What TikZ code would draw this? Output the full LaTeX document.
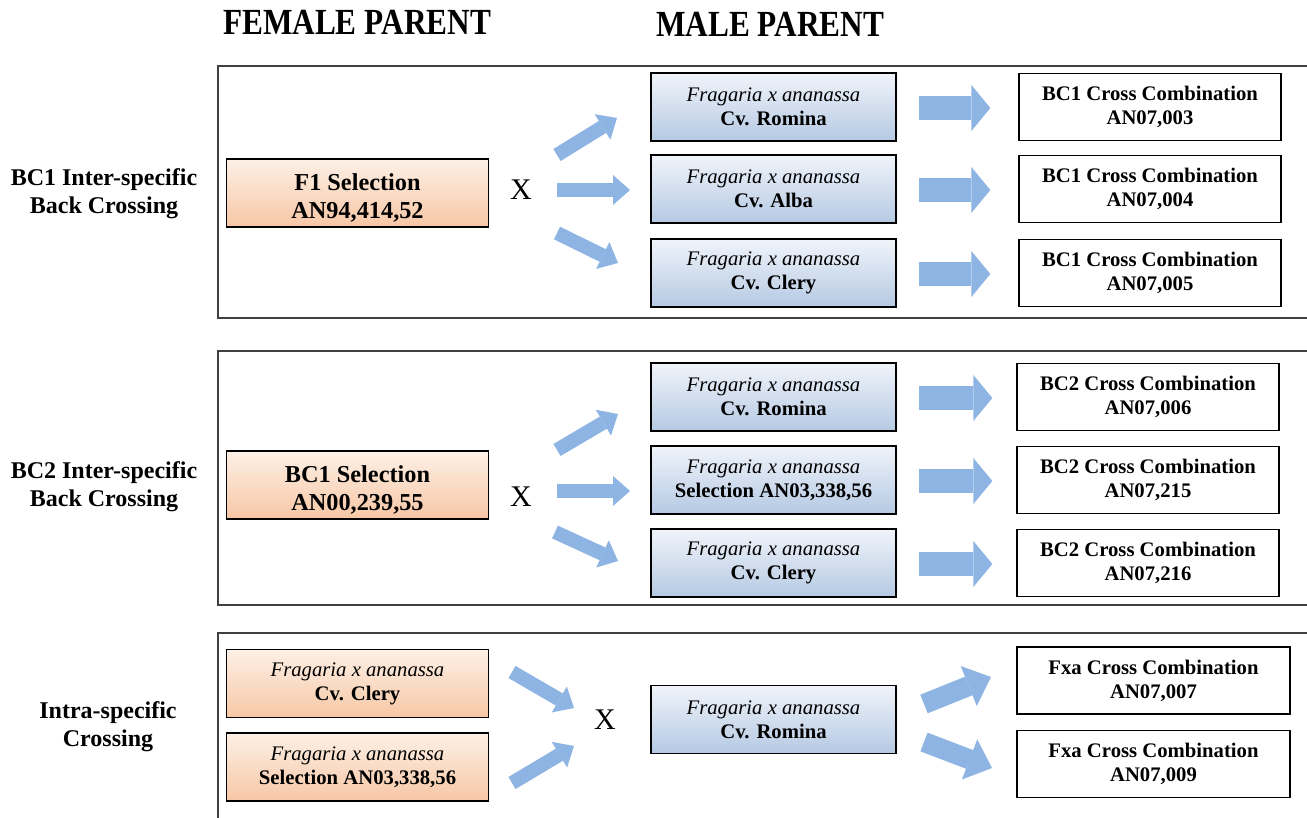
\documentclass[tikz,border=0pt]{standalone}
\usepackage{fontspec}
\setmainfont{Liberation Serif}
\newfontfamily\headfont[FakeStretch=0.85]{Liberation Serif}
\usetikzlibrary{arrows.meta}
\definecolor{arrowblue}{HTML}{8DB4E2}
\definecolor{femtop}{HTML}{FDF0E6}
\definecolor{fembot}{HTML}{F7C7A5}
\definecolor{maltop}{HTML}{F0F4FA}
\definecolor{malbot}{HTML}{B5C9E3}
\definecolor{panelgray}{HTML}{404040}
\begin{document}
\begin{tikzpicture}[x=1pt,y=-1pt,
  panel/.style={draw=panelgray,line width=1.5pt},
  femalebox/.style={draw=black,line width=1.3pt,top color=femtop,bottom color=fembot,
    minimum width=262pt,minimum height=68pt,align=center,inner sep=0pt},
  malebox/.style={draw=black,line width=1.3pt,top color=maltop,bottom color=malbot,
    minimum width=245pt,minimum height=68pt,align=center,inner sep=0pt,
    font=\fontsize{20.7}{24}\selectfont},
  resultbox/.style={draw=black,line width=1.3pt,fill=white,
    minimum width=262pt,minimum height=67pt,align=center,inner sep=0pt,
    font=\fontsize{20.7}{24}\selectfont\bfseries},
  bigfemale/.style={align=center,yshift=-5pt,font=\fontsize{24.3}{28}\selectfont\bfseries},
  smallfemale/.style={font=\fontsize{20.7}{24}\selectfont},
  rowlabel/.style={align=center,font=\fontsize{24}{28}\selectfont\bfseries},
  header/.style={font=\headfont\fontsize{36.8}{40}\selectfont\bfseries},
  cross/.style={font=\fontsize{30}{32}\selectfont},
  smallarrow/.style={draw=arrowblue,line width=14pt,
    -{Triangle[width=30pt,length=17pt,line width=0pt,fill=arrowblue]}},
  midarrow/.style={draw=arrowblue,line width=20pt,
    -{Triangle[width=43pt,length=24pt,line width=0pt,fill=arrowblue]}},
  bigarrow/.style={draw=arrowblue,line width=24pt,
    -{Triangle[width=46pt,length=19pt,line width=0pt,fill=arrowblue]}}
]
\useasboundingbox (0,0) rectangle (1307,818);

% headers
\node[header] (hfemale) at (357,22) {FEMALE PARENT};
\node[header] (hmale) at (770,24) {MALE PARENT};

% panels
\draw[panel] (1310,66) -- (218,66) -- (218,318) -- (1310,318);
\draw[panel] (1310,351) -- (218,351) -- (218,605) -- (1310,605);
\draw[panel] (1310,633) -- (218,633) -- (218,820);

% row labels
\node[rowlabel] (lab1) at (104,194) {BC1 Inter-specific\\Back Crossing};
\node[rowlabel] (lab2) at (104,487) {BC2 Inter-specific\\Back Crossing};
\node[rowlabel] (lab3) at (108,727) {Intra-specific\\Crossing};

% ---------- panel 1 ----------
\node[femalebox,label={[bigfemale]center:F1 Selection\\AN94,414,52}] (f1) at (357.5,193) {};
\node[cross] (x1) at (521,190) {X};
\node[malebox] (m11) at (773.5,107) {\textit{Fragaria x ananassa}\\\textbf{Cv. Romina}};
\node[malebox] (m12) at (773.5,189) {\textit{Fragaria x ananassa}\\\textbf{Cv. Alba}};
\node[malebox] (m13) at (773.5,273) {\textit{Fragaria x ananassa}\\\textbf{Cv. Clery}};
\node[resultbox] (r11) at (1150,107) {BC1 Cross Combination\\AN07,003};
\node[resultbox] (r12) at (1150,189) {BC1 Cross Combination\\AN07,004};
\node[resultbox] (r13) at (1150,273) {BC1 Cross Combination\\AN07,005};

\coordinate (a11s) at (557,155); \coordinate (a11e) at (617,118);
\coordinate (a12s) at (557,190); \coordinate (a12e) at (630,190);
\coordinate (a13s) at (557,233); \coordinate (a13e) at (618,263);
\draw[smallarrow] (a11s) -- (a11e);
\draw[smallarrow] (a12s) -- (a12e);
\draw[smallarrow] (a13s) -- (a13e);
\draw[bigarrow] ([xshift=22pt,yshift=-1pt]m11.east) -- ([xshift=-28pt,yshift=-1pt]r11.west);
\draw[bigarrow] ([xshift=22pt,yshift=-1pt]m12.east) -- ([xshift=-28pt,yshift=-1pt]r12.west);
\draw[bigarrow] ([xshift=22pt,yshift=-1pt]m13.east) -- ([xshift=-28pt,yshift=-1pt]r13.west);

% ---------- panel 2 ----------
\node[femalebox,label={[bigfemale]center:BC1 Selection\\AN00,239,55}] (f2) at (357.5,485) {};
\node[cross] (x2) at (521,497) {X};
\node[malebox] (m21) at (773.5,397) {\textit{Fragaria x ananassa}\\\textbf{Cv. Romina}};
\node[malebox] (m22) at (773.5,480) {\textit{Fragaria x ananassa}\\\textbf{Selection AN03,338,56}};
\node[malebox] (m23) at (773.5,563) {\textit{Fragaria x ananassa}\\\textbf{Cv. Clery}};
\node[resultbox] (r21) at (1148,397) {BC2 Cross Combination\\AN07,006};
\node[resultbox] (r22) at (1148,480) {BC2 Cross Combination\\AN07,215};
\node[resultbox] (r23) at (1148,563) {BC2 Cross Combination\\AN07,216};

\coordinate (a21s) at (557,450); \coordinate (a21e) at (618,414);
\coordinate (a22s) at (557,491); \coordinate (a22e) at (630,491);
\coordinate (a23s) at (555,532); \coordinate (a23e) at (618,561);
\draw[smallarrow] (a21s) -- (a21e);
\draw[smallarrow] (a22s) -- (a22e);
\draw[smallarrow] (a23s) -- (a23e);
\draw[bigarrow] ([xshift=22pt,yshift=-1pt]m21.east) -- ([xshift=-24pt,yshift=-1pt]r21.west);
\draw[bigarrow] ([xshift=22pt,yshift=-1pt]m22.east) -- ([xshift=-24pt,yshift=-1pt]r22.west);
\draw[bigarrow] ([xshift=22pt,yshift=-1pt]m23.east) -- ([xshift=-24pt,yshift=-1pt]r23.west);

% ---------- panel 3 ----------
\node[femalebox,smallfemale] (f31) at (357.5,683.5) {\textit{Fragaria x ananassa}\\\textbf{Cv. Clery}};
\node[femalebox,smallfemale] (f32) at (357.5,767) {\textit{Fragaria x ananassa}\\\textbf{Selection AN03,338,56}};
\node[cross] (x3) at (605,720) {X};
\node[malebox] (m3) at (773.5,719.5) {\textit{Fragaria x ananassa}\\\textbf{Cv. Romina}};
\node[resultbox,minimum width=273pt] (r31) at (1153.5,680.5) {Fxa Cross Combination\\AN07,007};
\node[resultbox,minimum width=273pt] (r32) at (1153.5,764) {Fxa Cross Combination\\AN07,009};

\coordinate (a31s) at (512,672); \coordinate (a31e) at (574,708);
\coordinate (a32s) at (512,783); \coordinate (a32e) at (574,746);
\draw[smallarrow] (a31s) -- (a31e);
\draw[smallarrow] (a32s) -- (a32e);
\coordinate (a33s) at (924,704); \coordinate (a33e) at (991,677);
\coordinate (a34s) at (924,742); \coordinate (a34e) at (992,768);
\draw[midarrow] (a33s) -- (a33e);
\draw[midarrow] (a34s) -- (a34e);
\end{tikzpicture}
\end{document}
